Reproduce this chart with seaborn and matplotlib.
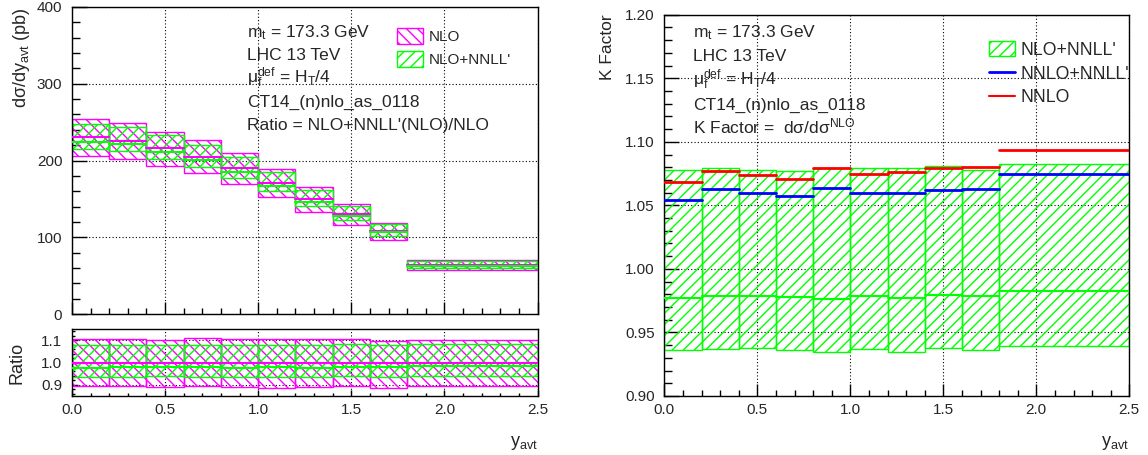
import numpy as np
import pandas as pd
import matplotlib
matplotlib.use("Agg")
import matplotlib.pyplot as plt
import seaborn as sns
from matplotlib.patches import Patch
from matplotlib.lines import Line2D
from matplotlib.ticker import MultipleLocator, FormatStrFormatter

# ---------------- data ----------------
bin_edges = [0.0, 0.2, 0.4, 0.6, 0.8, 1.0, 1.2, 1.4, 1.6, 1.8, 2.5]
nlo_central = [230, 226, 216, 205, 190, 171, 150, 130, 108.5, 64]
ratio_nlo_hi = [1.103, 1.103, 1.100, 1.108, 1.103, 1.103, 1.103, 1.103, 1.096, 1.100]
ratio_nlo_lo = [0.893, 0.893, 0.892, 0.893, 0.889, 0.888, 0.890, 0.893, 0.887, 0.893]
k_nnll_hi = [1.078, 1.079, 1.078, 1.077, 1.079, 1.0796, 1.0796, 1.081, 1.0776, 1.0828]
k_nnll_lo = [0.936, 0.937, 0.9375, 0.936, 0.935, 0.9367, 0.935, 0.9375, 0.936, 0.9393]
k_nnll_mid = [0.977, 0.979, 0.979, 0.978, 0.976, 0.979, 0.977, 0.9792, 0.979, 0.983]
k_nnlo = [1.068, 1.077, 1.074, 1.071, 1.079, 1.075, 1.076, 1.079, 1.080, 1.0938]
k_nnlo_nnll = [1.054, 1.063, 1.060, 1.057, 1.064, 1.060, 1.060, 1.0623, 1.063, 1.0744]
x_ticks = [0.0, 0.5, 1.0, 1.5, 2.0, 2.5]

# ---------------- style ----------------
sns.set_style("white")
plt.rcParams["font.family"] = ["Liberation Sans", "DejaVu Sans"]
plt.rcParams["mathtext.fontset"] = "custom"
plt.rcParams["mathtext.rm"] = "Liberation Sans"
plt.rcParams["mathtext.it"] = "Liberation Sans"
plt.rcParams["mathtext.bf"] = "Liberation Sans:bold"
plt.rcParams["hatch.linewidth"] = 1.0
plt.rcParams["axes.edgecolor"] = "black"
plt.rcParams["axes.linewidth"] = 1.0

MAG = "#ff00ff"
GRN = "#00ff00"
W, H = 1148, 455
fig = plt.figure(figsize=(W / 100, H / 100), dpi=100)

def fx(px):
    return px / W

def fy(py):
    return 1 - py / H

ax_top = fig.add_axes([fx(72), fy(314), fx(537.5) - fx(72), fy(7) - fy(314)])
ax_rat = fig.add_axes([fx(72), fy(396), fx(537.5) - fx(72), fy(329) - fy(396)])
ax_k = fig.add_axes([fx(664.3), fy(396), fx(1129.3) - fx(664.3), fy(14.7) - fy(396)])

edges = np.array(bin_edges)
lo_e = edges[:-1]
widths = np.diff(edges)
c = np.array(nlo_central)


def seg_df(vals):
    rows = []
    for i, v in enumerate(vals):
        rows.append({"x": edges[i], "y": v, "bin": i})
        rows.append({"x": edges[i + 1], "y": v, "bin": i})
    return pd.DataFrame(rows)


def band(ax, lo, hi, color, hatch):
    lo = np.asarray(lo)
    hi = np.asarray(hi)
    ax.bar(lo_e, hi - lo, width=widths, bottom=lo, align="edge",
           facecolor="none", edgecolor=color, hatch=hatch, linewidth=1.0, zorder=2)


def line(ax, vals, color, lw):
    sns.lineplot(data=seg_df(vals), x="x", y="y", units="bin", estimator=None,
                 color=color, linewidth=lw, ax=ax, legend=False, zorder=3)


def style_axes(ax, ymaj, ymin, ylim, xlen=(12, 6), ylen=(15, 8)):
    ax.set_xlim(0, 2.5)
    ax.set_ylim(*ylim)
    ax.xaxis.set_major_locator(MultipleLocator(0.5))
    ax.xaxis.set_minor_locator(MultipleLocator(0.1))
    ax.yaxis.set_major_locator(MultipleLocator(ymaj))
    ax.yaxis.set_minor_locator(MultipleLocator(ymin))
    ax.tick_params(axis="x", which="major", direction="in", length=xlen[0] * 0.72, width=1,
                   labelsize=11, pad=5, top=False, bottom=True, color="black")
    ax.tick_params(axis="x", which="minor", direction="in", length=xlen[1] * 0.72, width=1,
                   top=False, bottom=True, color="black")
    ax.tick_params(axis="y", which="major", direction="in", length=ylen[0] * 0.72, width=1,
                   labelsize=11, pad=7, right=False, left=True, color="black")
    ax.tick_params(axis="y", which="minor", direction="in", length=ylen[1] * 0.72, width=1,
                   right=False, left=True, color="black")
    ax.grid(True, which="major", color="black", linestyle=(0, (1, 2)), linewidth=0.8)
    ax.set_axisbelow(True)
    for s in ax.spines.values():
        s.set_visible(True)
        s.set_color("black")
        s.set_linewidth(1.0)
    ax.set_xlabel("")
    ax.set_ylabel("")


# ---------------- top-left panel ----------------
band(ax_top, c * np.array(ratio_nlo_lo), c * np.array(ratio_nlo_hi), MAG, "\\\\\\")
band(ax_top, c * np.array(k_nnll_lo), c * np.array(k_nnll_hi), GRN, "///")
line(ax_top, c, MAG, 1.5)
line(ax_top, c * np.array(k_nnll_mid), GRN, 1.5)
style_axes(ax_top, 100, 20, (0, 400))
ax_top.set_xticks(x_ticks)
ax_top.tick_params(axis="x", labelbottom=False)
ax_top.text((22 - 72) / 465.5, 1.0, r"d$\mathrm{\sigma}$/dy$_{\mathrm{avt}}$ (pb)", transform=ax_top.transAxes,
            rotation=90, ha="center", va="top", fontsize=13)

# ---------------- ratio panel ----------------
band(ax_rat, ratio_nlo_lo, ratio_nlo_hi, MAG, "\\\\\\")
band(ax_rat, k_nnll_lo, k_nnll_hi, GRN, "///")
line(ax_rat, [1.0] * len(c), MAG, 1.5)
line(ax_rat, k_nnll_mid, GRN, 1.5)
style_axes(ax_rat, 0.1, 0.02, (0.85, 1.15), xlen=(6, 3), ylen=(6, 3))
ax_rat.set_xticks(x_ticks)
ax_rat.yaxis.set_major_formatter(FormatStrFormatter("%.1f"))
ax_rat.set_yticks([0.9, 1.0, 1.1])
ax_rat.xaxis.set_major_formatter(FormatStrFormatter("%.1f"))
ax_rat.text(-0.118, 0.5, "Ratio", transform=ax_rat.transAxes, rotation=90,
            ha="center", va="center", fontsize=13)

# ---------------- K factor panel ----------------
band(ax_k, k_nnll_lo, k_nnll_hi, GRN, "///")
line(ax_k, k_nnll_mid, GRN, 1.5)
line(ax_k, k_nnlo_nnll, "#0000ff", 2.0)
line(ax_k, k_nnlo, "#ff0000", 2.0)
style_axes(ax_k, 0.05, 0.01, (0.90, 1.20))
ax_k.set_xticks(x_ticks)
ax_k.xaxis.set_major_formatter(FormatStrFormatter("%.1f"))
ax_k.yaxis.set_major_formatter(FormatStrFormatter("%.2f"))
ax_k.text(-0.122, 1.0, "K Factor", transform=ax_k.transAxes, rotation=90,
          ha="center", va="top", fontsize=12.5)

# x labels
fig.text(fx(537.5), fy(446), r"y$_{\mathrm{avt}}$", ha="right", va="baseline", fontsize=13)
fig.text(fx(1129.3), fy(446), r"y$_{\mathrm{avt}}$", ha="right", va="baseline", fontsize=13)

# ---------------- annotations ----------------
left_lines = [r"m$_{\mathrm{t}}$ = 173.3 GeV", "LHC 13 TeV",
              r"$\mathrm{\mu}_{\mathrm{f}}^{\mathrm{def}}$ = H$_{\mathrm{T}}$/4",
              "CT14_(n)nlo_as_0118", "Ratio = NLO+NNLL'(NLO)/NLO"]
left_base = [37, 60, 83, 107, 130]
for t, b in zip(left_lines, left_base):
    fig.text(fx(247), fy(b), t, ha="left", va="baseline", fontsize=12.5)

right_lines = [r"m$_{\mathrm{t}}$ = 173.3 GeV", "LHC 13 TeV",
               r"$\mathrm{\mu}_{\mathrm{f}}^{\mathrm{def}}$ = H$_{\mathrm{T}}$/4",
               "CT14_(n)nlo_as_0118",
               r"K Factor =  d$\mathrm{\sigma}$/d$\mathrm{\sigma}^{\mathrm{NLO}}$"]
right_base = [37, 61, 85, 110, 133]
for t, b in zip(right_lines, right_base):
    fig.text(fx(693), fy(b), t, ha="left", va="baseline", fontsize=12.5)

# legends
h_left = [Patch(facecolor="none", edgecolor=MAG, hatch="\\\\\\", linewidth=1.0),
          Patch(facecolor="none", edgecolor=GRN, hatch="///", linewidth=1.0)]
leg1 = ax_top.legend(h_left, ["NLO", "NLO+NNLL'"], loc="upper left",
                     bbox_to_anchor=(fx(396.7), fy(28)), bbox_transform=fig.transFigure,
                     frameon=False, fontsize=11, borderpad=0, borderaxespad=0,
                     handlelength=1.7, handleheight=1.2, handletextpad=0.4, labelspacing=0.45)

h_right = [Patch(facecolor="none", edgecolor=GRN, hatch="///", linewidth=1.0),
           Line2D([], [], color="#0000ff", lw=2.0),
           Line2D([], [], color="#ff0000", lw=1.5)]
leg2 = ax_k.legend(h_right, ["NLO+NNLL'", "NNLO+NNLL'", "NNLO"], loc="upper left",
                   bbox_to_anchor=(fx(989), fy(41)), bbox_transform=fig.transFigure,
                   frameon=False, fontsize=12.7, borderpad=0, borderaxespad=0,
                   handlelength=1.5, handleheight=0.95, handletextpad=0.3, labelspacing=0.35)

fig.savefig("out.png", dpi=100)
